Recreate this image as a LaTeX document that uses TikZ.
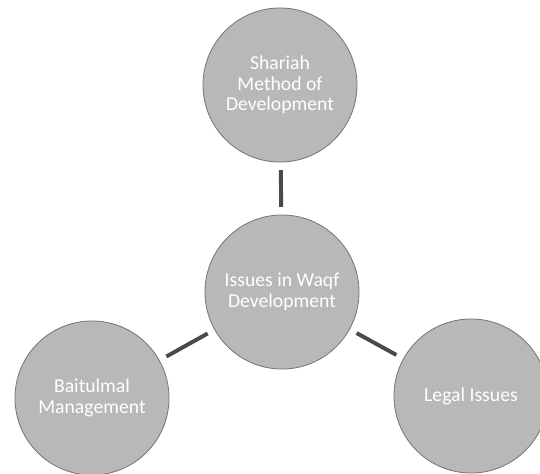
\documentclass[tikz,border=0pt]{standalone}
\usepackage{fontspec}
\setmainfont{Carlito}
\usetikzlibrary{positioning}

\definecolor{issuefill}{HTML}{B8B8B8}
\definecolor{issueedge}{HTML}{777777}
\definecolor{linkgray}{HTML}{4A4A4A}

\begin{document}
\begin{tikzpicture}[x=0.025cm, y=-0.025cm,
    issue/.style={circle, draw=issueedge, line width=0.6pt, fill=issuefill, minimum size=3.85cm, inner sep=0pt, align=center, text=white, font=\fontsize{14}{14.5}\selectfont},
    link/.style={draw=linkgray, line width=2.8pt, shorten >=5.5pt, shorten <=5.5pt}]
    \useasboundingbox (0,0) rectangle (540,474);

    \node[issue] (shariah) at (280,85) {Shariah\\Method of\\Development};
    \node[issue] (hub) at (282,292) {Issues in Waqf\\Development};
    \node[issue] (baitulmal) at (92,398) {Baitulmal\\Management};
    \node[issue] (legal) at (471,396) {Legal Issues};

    \draw[link] (shariah) -- (hub);
    \draw[link] (hub) -- (baitulmal);
    \draw[link] (hub) -- (legal);
\end{tikzpicture}
\end{document}
